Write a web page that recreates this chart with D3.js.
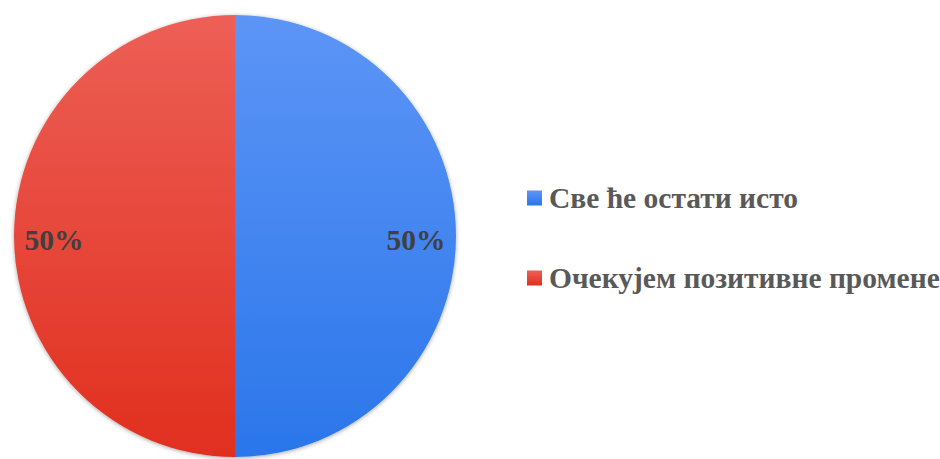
<!DOCTYPE html>
<html><head><meta charset="utf-8">
<script src="https://cdn.jsdelivr.net/npm/d3@7"></script>
<style>html,body{margin:0;padding:0;background:#fff;}svg{display:block;}</style>
</head><body>
<svg id="c" width="940" height="459"></svg>
<script>
const categories = ["Све ће остати исто", "Очекујем позитивне промене"];
const values = [50, 50];
const colorsTop = ["#5d95f6", "#ed5f56"];
const colorsBottom = ["#2a76eb", "#e02f1f"];

const svg = d3.select("#c");
const cx = 235, cy = 236, r = 221;
const defs = svg.append("defs");
categories.forEach((c, i) => {
  const g = defs.append("linearGradient").attr("id", "g" + i)
    .attr("x1", 0).attr("y1", 0).attr("x2", 0).attr("y2", 1);
  g.append("stop").attr("offset", "0%").attr("stop-color", colorsTop[i]);
  g.append("stop").attr("offset", "100%").attr("stop-color", colorsBottom[i]);
});
const f = defs.append("filter").attr("id", "sh").attr("x", "-10%").attr("y", "-10%").attr("width", "120%").attr("height", "120%");
f.append("feDropShadow").attr("dx", 0).attr("dy", 1).attr("stdDeviation", 2).attr("flood-color", "#000").attr("flood-opacity", 0.35);

const pie = d3.pie().sort(null).value(d => d)(values);
const arc = d3.arc().innerRadius(0).outerRadius(r);
const gp = svg.append("g").attr("transform", `translate(${cx},${cy})`).attr("filter", "url(#sh)");
gp.selectAll("path").data(pie).join("path")
  .attr("d", arc)
  .attr("fill", (d, i) => `url(#g${i})`);

const lbl = svg.append("g").attr("transform", `translate(${cx},${cy})`);
const labelR = 181;
lbl.selectAll("text").data(pie).join("text")
  .attr("x", d => labelR * Math.sin((d.startAngle + d.endAngle) / 2))
  .attr("y", d => -labelR * Math.cos((d.startAngle + d.endAngle) / 2) + 14)
  .attr("text-anchor", "middle")
  .attr("font-family", "'Liberation Serif','Times New Roman',serif")
  .attr("font-weight", "bold").attr("font-size", 29.5)
  .attr("fill", "#404040")
  .text(d => d.data + "%");

const legend = svg.append("g");
const ly = d3.scalePoint().domain(categories).range([198, 278]);
categories.forEach((c, i) => {
  const y = ly(c);
  legend.append("rect").attr("x", 527).attr("y", y - 7.5).attr("width", 15).attr("height", 15)
    .attr("fill", `url(#g${i})`);
  legend.append("text").attr("x", 549).attr("y", y + 9.5)
    .attr("font-family", "'Liberation Serif','Times New Roman',serif")
    .attr("font-weight", "bold").attr("font-size", 29.5)
    .attr("fill", "#595959").text(c);
});
</script>
</body></html>
